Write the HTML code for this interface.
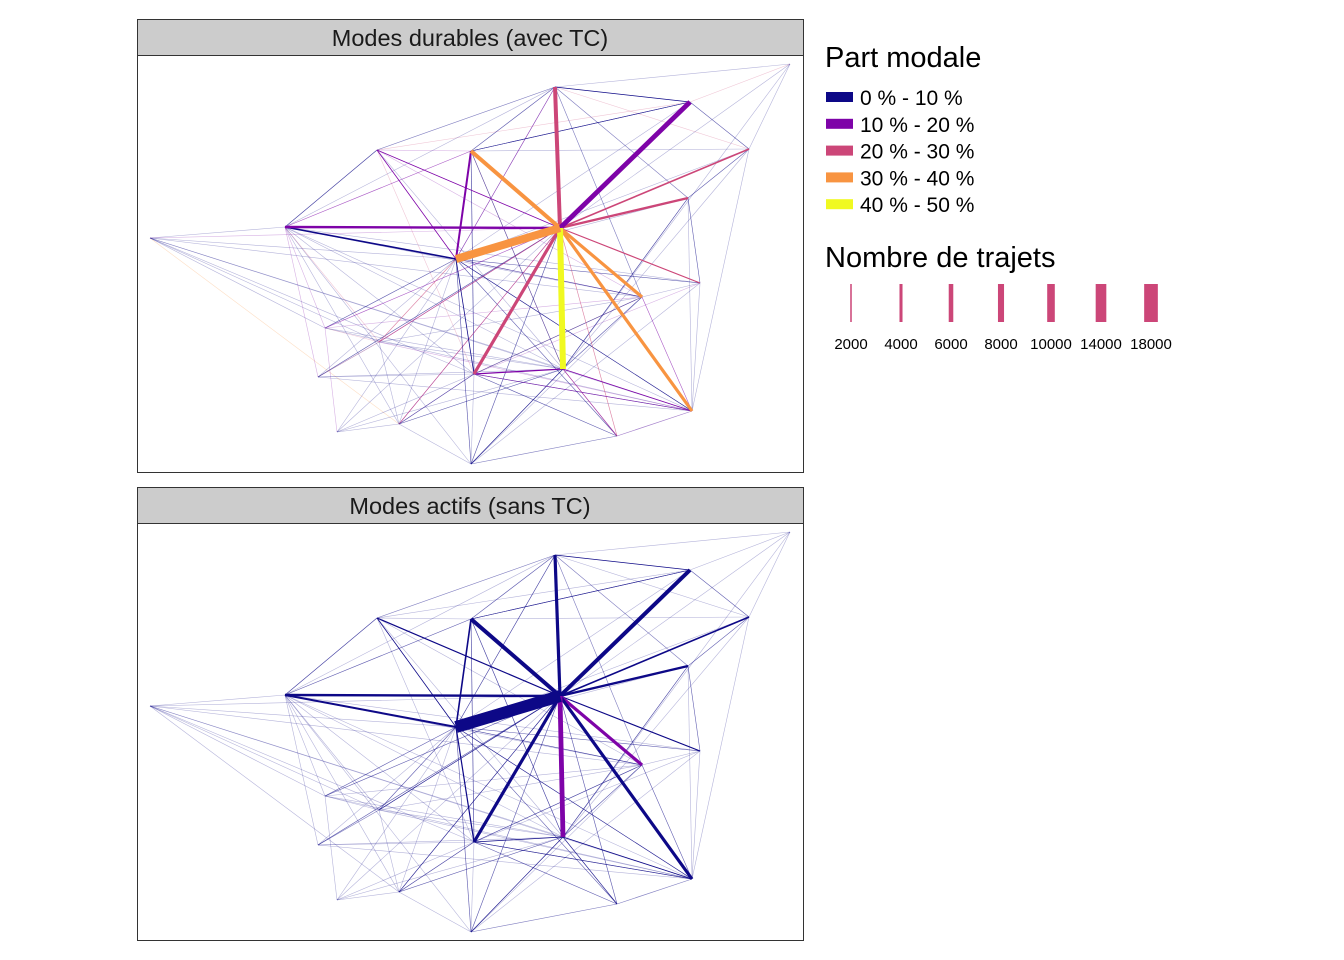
<!DOCTYPE html>
<html><head><meta charset="utf-8">
<style>
body{margin:0;background:#fff;font-family:"Liberation Sans",sans-serif;}
svg{display:block}
</style></head>
<body>
<svg id="chart" width="1344" height="960" viewBox="0 0 1344 960">
<rect width="1344" height="960" fill="#fff"/>
<g id="panels"></g>
<g id="legend"></g>
</svg>
<script>
// nodes (map positions)
const nodeNames=["A","B","C","D","E","F","G","H","I","J","K","L","M","N","O","P","Q","R","S","T","U","V","W"];
const nodeX=[555,690,790,749,377,471,688,285,150,560,456,700,642,325,379,318,474,563,692,337,399,617,471];
const nodeY=[87,102,64,149,150,151,198,227,238,228,259,283,297,328,342,377,374,369,411,432,424,436,464];
// flows
const edgeFrom=["J","J","J","J","J","J","J","J","J","J","J","J","J","K","F","K","Q","R","B","E","A","H","K","F","F","K","K","B","D","J","J","J","J","Q","Q","R","R","M","G","S","A","A","E","H","I","I","I","N","P","T","U","U","W","W","O","O","N","C","C","L","L","V","V","A","E","H","H","K","F","Q",
"N","O","U","T","P","I","I","I","I","I","I","I","H","H","H","H","H","H","H","N","N","N","N","P","P","P","P","O","O","O","T","T","T","U","U","W","W","W","V","V","V","S","S","L","L","M","M","M","G","G","G","D","D","D","B","B","B","B","C","C","C","A","A","A","A","E","E","F","F","F","E","A","A","G","G","D","D","B"];
const edgeTo  =["K","B","A","F","R","M","S","Q","H","G","D","L","E","H","K","Q","R","S","A","K","F","E","O","H","B","W","M","D","G","W","V","U","O","S","U","V","W","S","L","V","E","K","H","N","H","K","N","O","O","U","W","Q","V","Q","P","U","T","B","D","M","S","S","W","G","F","O","P","S","R","M",
"J","J","J","J","J","J","M","R","S","Q","O","U","M","R","Q","S","U","W","L","R","S","M","K","R","K","Q","S","R","S","M","K","Q","R","K","R","R","M","L","K","Q","R","K","Q","K","Q","R","K","Q","R","K","A","F","A","K","F","F","K","E","R","J","A","K","E","H","R","Q","R","Q","R","Q","M","M","M","S","R","S","R","S","S"];
const tripsTC =[10000,6000,5000,5000,7500,4000,4000,4000,3000,3000,2000,1500,1000,2000,2500,1000,1500,1000,1000,1000,800,800,800,600,600,800,600,600,600,800,800,600,600,800,600,600,600,600,500,400,400,500,400,300,400,300,300,300,300,300,300,400,300,300,300,300,300,400,300,400,300,400,300,300,300,300,300,600,400,400,
700,700,600,400,500,400,300,300,300,300,300,250,400,400,400,300,300,300,300,400,300,300,500,400,400,300,300,400,400,300,300,300,300,400,500,500,400,300,500,500,600,600,500,500,300,500,400,500,500,400,300,400,300,300,500,400,300,300,400,300,300,400,400,400,300,300,300,500,500,400,300,300,300,300,300,300,300,300];
const shareTC =[35,15,25,35,45,35,35,25,15,25,25,25,15,5,15,5,15,15,5,15,5,5,25,15,5,5,5,5,5,5,25,15,15,15,5,25,5,15,5,5,5,15,5,15,5,5,5,25,5,5,5,15,5,5,25,5,15,25,5,5,5,15,5,5,15,25,15,5,25,25,
15,25,25,5,5,15,5,5,5,5,5,35,5,5,5,5,5,5,5,5,5,15,5,5,5,5,5,5,15,5,5,5,5,5,5,5,5,5,5,5,15,5,5,5,15,5,15,5,5,5,5,5,25,5,5,5,5,25,5,5,5,5,5,5,5,25,5,5,5,5,15,5,5,5,5,5,5];
const tripsAct=[15000,5000,4000,5000,6000,4000,4000,4000,3000,3000,2000,1500,1500,2500,2000,1500,1000,1000,1000,1000,800,800,800,600,600,800,600,600,600,800,800,600,600,800,600,600,600,600,500,400,400,500,400,300,400,300,300,300,300,300,300,400,300,300,300,300,300,400,300,400,300,400,300,300,300,300,300,600,400,400,
700,700,600,400,500,400,300,300,300,300,300,250,400,400,400,300,300,300,300,400,300,300,500,400,400,300,300,400,400,300,300,300,300,400,500,500,400,300,500,500,600,600,500,500,300,500,400,500,500,400,300,400,300,300,500,400,300,300,400,300,300,400,400,400,300,300,300,500,500,400,300,300,300,300,300,300,300,300];
const shareAct=[5,5,5,5,15,15,5,5,5,5,5,5,5,5,5,5,5,5,5,5,5,5,5,5,5,5,5,5,5,5,5,5,5,5,5,5,5,5,5,5,5,5,5,5,5,5,5,5,5,5,5,5,5,5,5,5,5,5,5,5,5,5,5,5,5,5,5,5,5,5,
5,5,5,5,5,5,5,5,5,5,5,5,5,5,5,5,5,5,5,5,5,5,5,5,5,5,5,5,5,5,5,5,5,5,5,5,5,5,5,5,5,5,5,5,5,5,5,5,5,5,5,5,5,5,5,5,5,5,5,5,5,5,5,5,5,5,5,5,5,5,5,5,5,5,5,5,5];
// legend
const legendLabels=["0 % - 10 %","10 % - 20 %","20 % - 30 %","30 % - 40 %","40 % - 50 %"];
const legendColors=["#0D0887","#7E03A8","#CC4678","#F89441","#F0F921"];
const sizeTicks=[2000,4000,6000,8000,10000,14000,18000];

const NS="http://www.w3.org/2000/svg";
function mk(tag,attrs,parent){const e=document.createElementNS(NS,tag);for(const k in attrs)e.setAttribute(k,attrs[k]);parent.appendChild(e);return e;}
const widthScale=t=>Math.max(0.6,t*0.0008);
const colorScale=s=>legendColors[Math.min(4,Math.floor(s/10))];
const idx=n=>nodeNames.indexOf(n);

const panels=document.getElementById('panels');
const titles=["Modes durables (avec TC)","Modes actifs (sans TC)"];
[0,1].forEach(p=>{
  const off=p*468;
  const g=mk('g',{},panels);
  
  
  const strip=mk('rect',{x:137.5,y:19.5+off,width:666,height:36,fill:'#CCCCCC',stroke:'#333','stroke-width':1},g);
  
  
  const tt=mk('text',{x:470,y:46+off,'text-anchor':'middle','font-size':23.5,fill:'#1a1a1a'},g);
  tt.textContent=titles[p];
  
  
  const box=mk('rect',{x:137.5,y:55.5+off,width:666,height:417,fill:'#fff',stroke:'#333','stroke-width':1},g);
  
  
  const trips=p?tripsAct:tripsTC, share=p?shareAct:shareTC;
  const order=edgeFrom.map((_,i)=>i).sort((a,b)=>trips[a]-trips[b]);
  order.forEach(i=>{
    const a=idx(edgeFrom[i]),b=idx(edgeTo[i]);
    const w=widthScale(trips[i]);
    const ln=mk('line',{x1:nodeX[a],y1:nodeY[a]+off,x2:nodeX[b],y2:nodeY[b]+off,stroke:colorScale(share[i]),'stroke-width':w,opacity:trips[i]<500?0.3:(trips[i]<900?0.65:1)},g);
    
    
  });
});

const lg=document.getElementById('legend');
const t1=mk('text',{x:825,y:67,'font-size':29,fill:'#000'},lg);
t1.textContent="Part modale";


legendLabels.forEach((l,i)=>{
  const r=mk('rect',{x:826,y:92+i*26.8,width:27,height:10,fill:legendColors[i]},lg);
  
  
  const t=mk('text',{x:860,y:105+i*26.8,'font-size':21,fill:'#000'},lg);
  t.textContent=l;
  
  
});
const t2=mk('text',{x:825,y:267,'font-size':29,fill:'#000'},lg);
t2.textContent="Nombre de trajets";


sizeTicks.forEach((v,i)=>{
  const cx=851+i*50, w=widthScale(v)*0.95;
  const r=mk('rect',{x:cx-w/2,y:284,width:w,height:38,fill:'#CC4678'},lg);
  
  
  const t=mk('text',{x:cx,y:349,'font-size':15,'text-anchor':'middle',fill:'#000'},lg);
  t.textContent=v;
  
  
});
</script>
</body></html>
